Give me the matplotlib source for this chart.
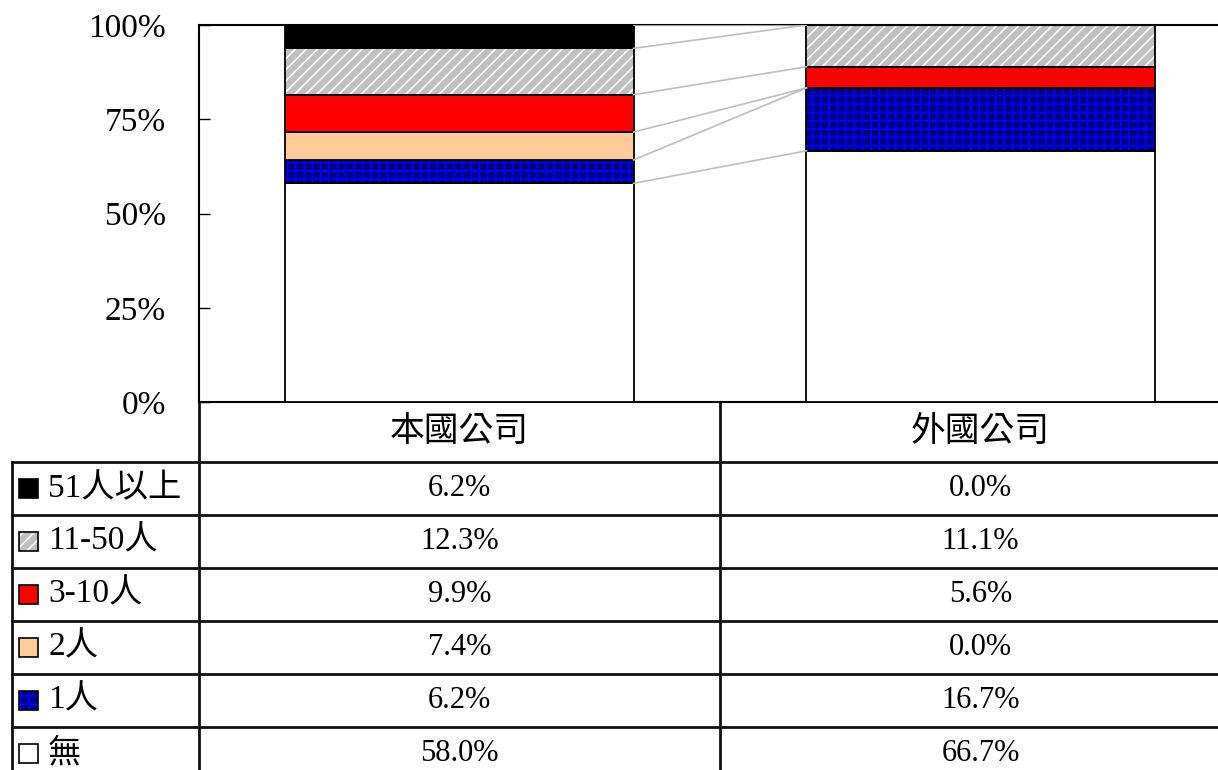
import numpy as np
import matplotlib
matplotlib.use('Agg')
from matplotlib import pyplot as plt
from matplotlib.patches import Rectangle

plt.rcParams['font.family'] = ['Liberation Serif', 'Noto Sans CJK TC']
plt.rcParams['hatch.linewidth'] = 1.2

categories = ['本國公司', '外國公司']
series = ['無', '1人', '2人', '3-10人', '11-50人', '51人以上']
domestic = [58.0, 6.2, 7.4, 9.9, 12.3, 6.2]
foreign = [66.7, 16.7, 0.0, 5.6, 11.1, 0.0]

# face, hatch, hatch colour for each series
styles = [
	('#FFFFFF', None, None),
	('#000080', '++', '#0000FF'),
	('#FFCC99', None, None),
	('#FF0000', None, None),
	('#C0C0C0', '///', '#FFFFFF'),
	('#000000', None, None),
]

AX_W, AX_H = 1042.0, 377.0   # axes size in px

def fx(px):
	return px / AX_W

def fy(px):
	return px / AX_H

fig = plt.figure(figsize=(12.18, 7.7), dpi=100)
ax = fig.add_axes([199/1218, 368/770, AX_W/1218, AX_H/770])

data = np.array([domestic, foreign]).T
pct = data / data.sum(axis=0) * 100
x = np.arange(len(categories))
width = 0.668
bottoms = np.zeros(len(categories))
tops = []
for i, name in enumerate(series):
	face, hatch, hcol = styles[i]
	if hatch:
		ax.bar(x, pct[i], width, bottom=bottoms, color=face, hatch=hatch,
			edgecolor=hcol, linewidth=0, zorder=2)
		ax.bar(x, pct[i], width, bottom=bottoms, fill=False,
			edgecolor='black', linewidth=1.3, zorder=3)
	else:
		ax.bar(x, pct[i], width, bottom=bottoms, color=face,
			edgecolor='black', linewidth=1.3, zorder=3)
	bottoms = bottoms + pct[i]
	tops.append(bottoms.copy())

# series lines between bars
for t in tops:
	ax.plot([x[0] + width/2, x[1] - width/2], [t[0], t[1]], color='#BDBDBD',
		linewidth=1.2, zorder=4)

ax.set_xlim(-0.5, 1.5)
ax.set_ylim(0, 100)
ax.set_yticks([0, 25, 50, 75, 100])
ax.set_yticklabels(['0%', '25%', '50%', '75%', '100%'])
ax.tick_params(axis='y', direction='in', length=8, width=1, labelsize=24, pad=24)
ax.set_xticks([])
ax.spines['right'].set_visible(False)
for s in ['left', 'top', 'bottom']:
	ax.spines[s].set_linewidth(1.5)

# data table
head_h = 60
row_h = 53
left_px = 12 - 199
n = len(series)
bottom_y = -fy(head_h + row_h * (n + 1))
lk = dict(transform=ax.transAxes, clip_on=False, color='#111111', linewidth=2)
ax.plot([0, 0], [0, bottom_y], **lk)
ax.plot([0.5, 0.5], [0, bottom_y], **lk)
ax.plot([fx(left_px), fx(left_px)], [-fy(head_h), bottom_y], **lk)
for r in range(n + 1):
	yy = -fy(head_h + row_h * r)
	ax.plot([fx(left_px), 1], [yy, yy], **lk)

for j, c in enumerate(categories):
	ax.text((j + 0.5) / 2, -fy(head_h / 2), c, transform=ax.transAxes,
		ha='center', va='center', fontsize=25, fontfamily=['Noto Sans CJK TC'])

order = list(range(n))[::-1]
for r, i in enumerate(order):
	yc = -fy(head_h + row_h * r + row_h / 2)
	face, hatch, hcol = styles[i]
	ks = 19
	kx = fx(19 - 199)
	ky = yc - fy(ks / 2)
	ax.add_patch(Rectangle((kx, ky), fx(ks), fy(ks), transform=ax.transAxes,
		facecolor=face, hatch=hatch, edgecolor=hcol if hatch else 'black',
		linewidth=0 if hatch else 1.2, clip_on=False))
	if hatch:
		ax.add_patch(Rectangle((kx, ky), fx(ks), fy(ks), transform=ax.transAxes,
			fill=False, edgecolor='black', linewidth=1.2, clip_on=False))
	ax.text(fx(48 - 199), yc, series[i], transform=ax.transAxes, ha='left',
		va='center', fontsize=24)
	for j in range(len(categories)):
		val = data[i, j]
		ax.text((j + 0.5) / 2, yc, f'{val:.1f}%', transform=ax.transAxes,
			ha='center', va='center', fontsize=22)

fig.savefig('out.png', dpi=100)
